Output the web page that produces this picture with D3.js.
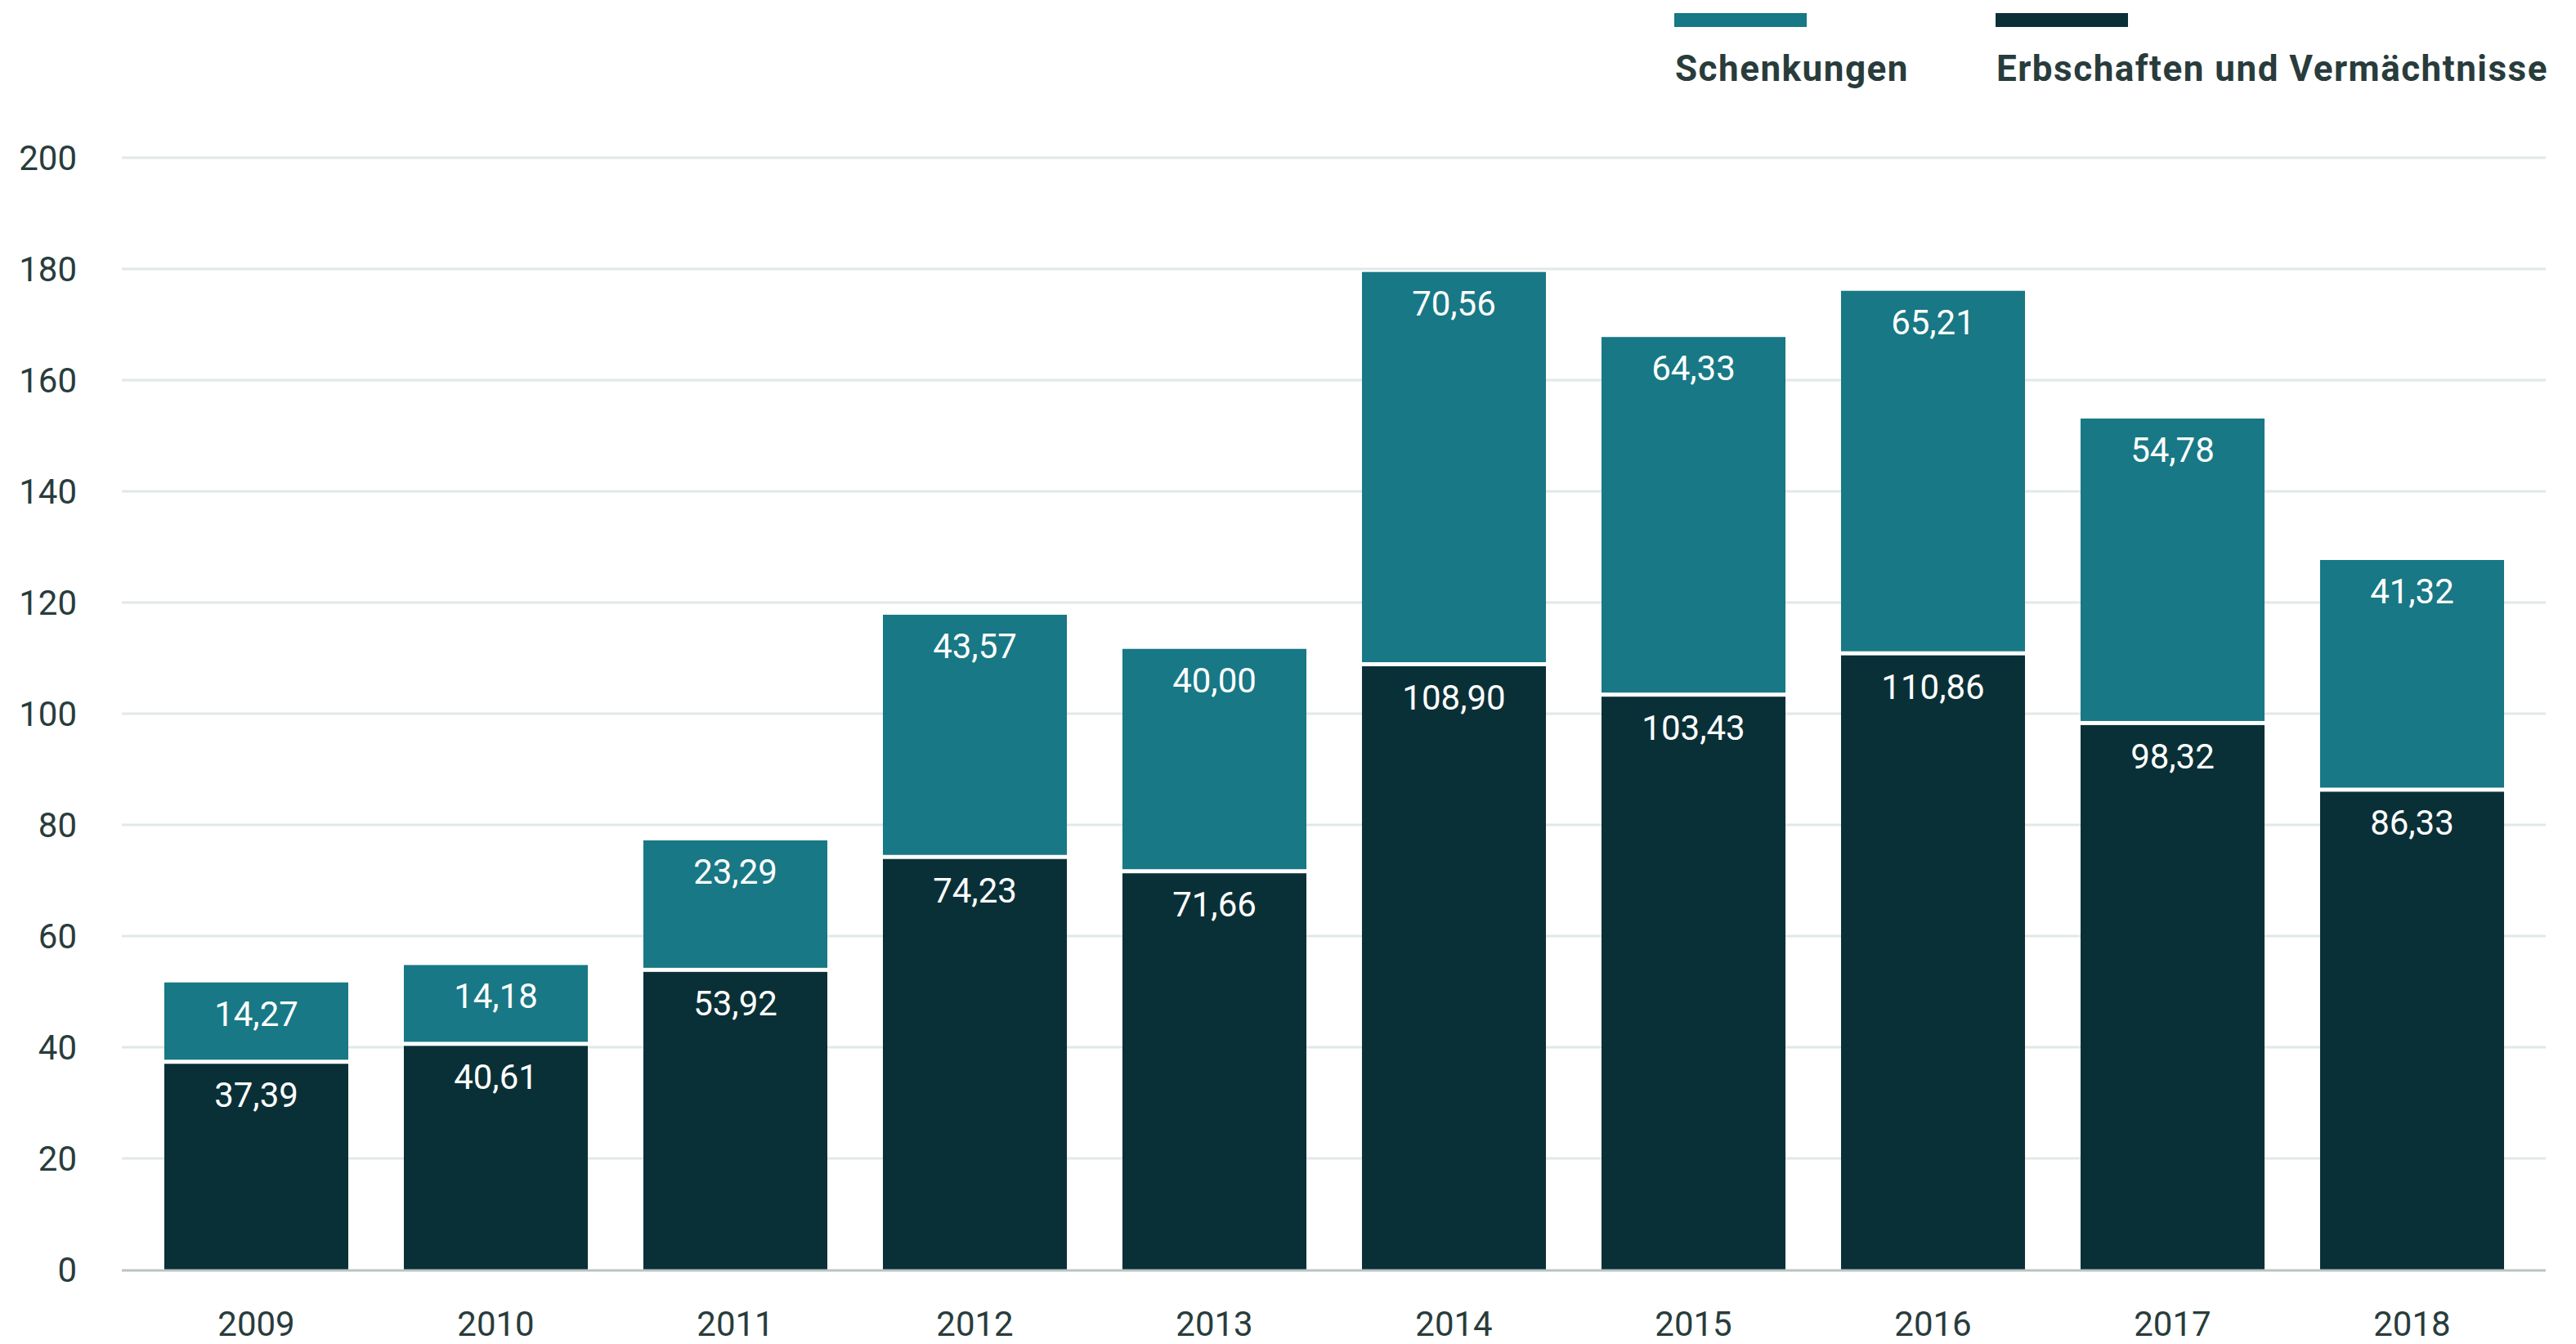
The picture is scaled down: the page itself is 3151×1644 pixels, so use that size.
<!DOCTYPE html>
<html>
<head>
<meta charset="utf-8">
<script src="https://cdn.jsdelivr.net/npm/d3@7"></script>
<style>
  html, body { margin: 0; padding: 0; background: #ffffff; }
  svg { display: block; }
  text { font-family: Roboto, "Noto Sans", sans-serif; }
</style>
</head>
<body>
<svg id="chart" width="3151" height="1644"></svg>
<script>
const years = ["2009","2010","2011","2012","2013","2014","2015","2016","2017","2018"];
const erbschaften = [37.39, 40.61, 53.92, 74.23, 71.66, 108.90, 103.43, 110.86, 98.32, 86.33];
const schenkungen = [14.27, 14.18, 23.29, 43.57, 40.00, 70.56, 64.33, 65.21, 54.78, 41.32];
const yTicks = [0, 20, 40, 60, 80, 100, 120, 140, 160, 180, 200];
const seriesNames = ["Schenkungen", "Erbschaften und Vermächtnisse"];

const colTeal = "#187885";
const colDark = "#0a3037";
const colText = "#293c3c";
const colGrid = "#e2e8e8";
const colAxis = "#b9c4c4";

const svg = d3.select("#chart");
const gridX0 = 149, gridX1 = 3114;
const y = d3.scaleLinear().domain([0, 200]).range([1553, 193]);
const x = d3.scaleBand().domain(years).range([201, 3063]).paddingInner(0.232).paddingOuter(0);

// gridlines
svg.append("g").selectAll("line").data(yTicks.filter(t => t > 0)).join("line")
  .attr("x1", gridX0).attr("x2", gridX1)
  .attr("y1", d => y(d)).attr("y2", d => y(d))
  .attr("stroke", colGrid).attr("stroke-width", 3);

// y labels
svg.append("g").selectAll("text").data(yTicks).join("text")
  .attr("x", 94).attr("y", d => y(d)).attr("dy", "0.35em")
  .attr("text-anchor", "end")
  .attr("font-size", 42).attr("fill", colText)
  .text(d => d);

const fmt = v => v.toFixed(2).replace(".", ",");
const data = years.map((yr, i) => ({ yr, erb: erbschaften[i], sch: schenkungen[i] }));
const half = 2.5;

const bars = svg.append("g");
// dark segments
bars.selectAll("rect.erb").data(data).join("rect").attr("class", "erb")
  .attr("x", d => x(d.yr)).attr("width", x.bandwidth())
  .attr("y", d => y(d.erb) + half).attr("height", d => y(0) - y(d.erb) - half)
  .attr("fill", colDark);
// teal segments
bars.selectAll("rect.sch").data(data).join("rect").attr("class", "sch")
  .attr("x", d => x(d.yr)).attr("width", x.bandwidth())
  .attr("y", d => y(d.erb + d.sch)).attr("height", d => y(d.erb) - half - y(d.erb + d.sch))
  .attr("fill", colTeal);

// value labels
bars.selectAll("text.erbl").data(data).join("text").attr("class", "erbl")
  .attr("x", d => x(d.yr) + x.bandwidth() / 2)
  .attr("y", d => y(d.erb) + half + 53)
  .attr("text-anchor", "middle").attr("font-size", 42).attr("fill", "#ffffff")
  .text(d => fmt(d.erb));
bars.selectAll("text.schl").data(data).join("text").attr("class", "schl")
  .attr("x", d => x(d.yr) + x.bandwidth() / 2)
  .attr("y", d => y(d.erb + d.sch) + 53)
  .attr("text-anchor", "middle").attr("font-size", 42).attr("fill", "#ffffff")
  .text(d => fmt(d.sch));

// baseline axis
svg.append("line").attr("x1", gridX0).attr("x2", gridX1)
  .attr("y1", y(0) + 1).attr("y2", y(0) + 1)
  .attr("stroke", colAxis).attr("stroke-width", 3);

// x labels
svg.append("g").selectAll("text").data(years).join("text")
  .attr("x", d => x(d) + x.bandwidth() / 2).attr("y", 1634)
  .attr("text-anchor", "middle").attr("font-size", 42).attr("fill", colText)
  .text(d => d);

// legend
const legendX = [2048, 2441];
const legendCols = [colTeal, colDark];
const lg = svg.append("g");
lg.selectAll("rect").data(seriesNames).join("rect")
  .attr("x", (d, i) => legendX[i]).attr("y", 16)
  .attr("width", 162).attr("height", 17)
  .attr("fill", (d, i) => legendCols[i]);
lg.selectAll("text").data(seriesNames).join("text")
  .attr("x", (d, i) => legendX[i] + 1).attr("y", 99)
  .attr("font-size", 44).attr("font-weight", 700).attr("letter-spacing", 1.5)
  .attr("fill", colText)
  .text(d => d);
</script>
</body>
</html>
